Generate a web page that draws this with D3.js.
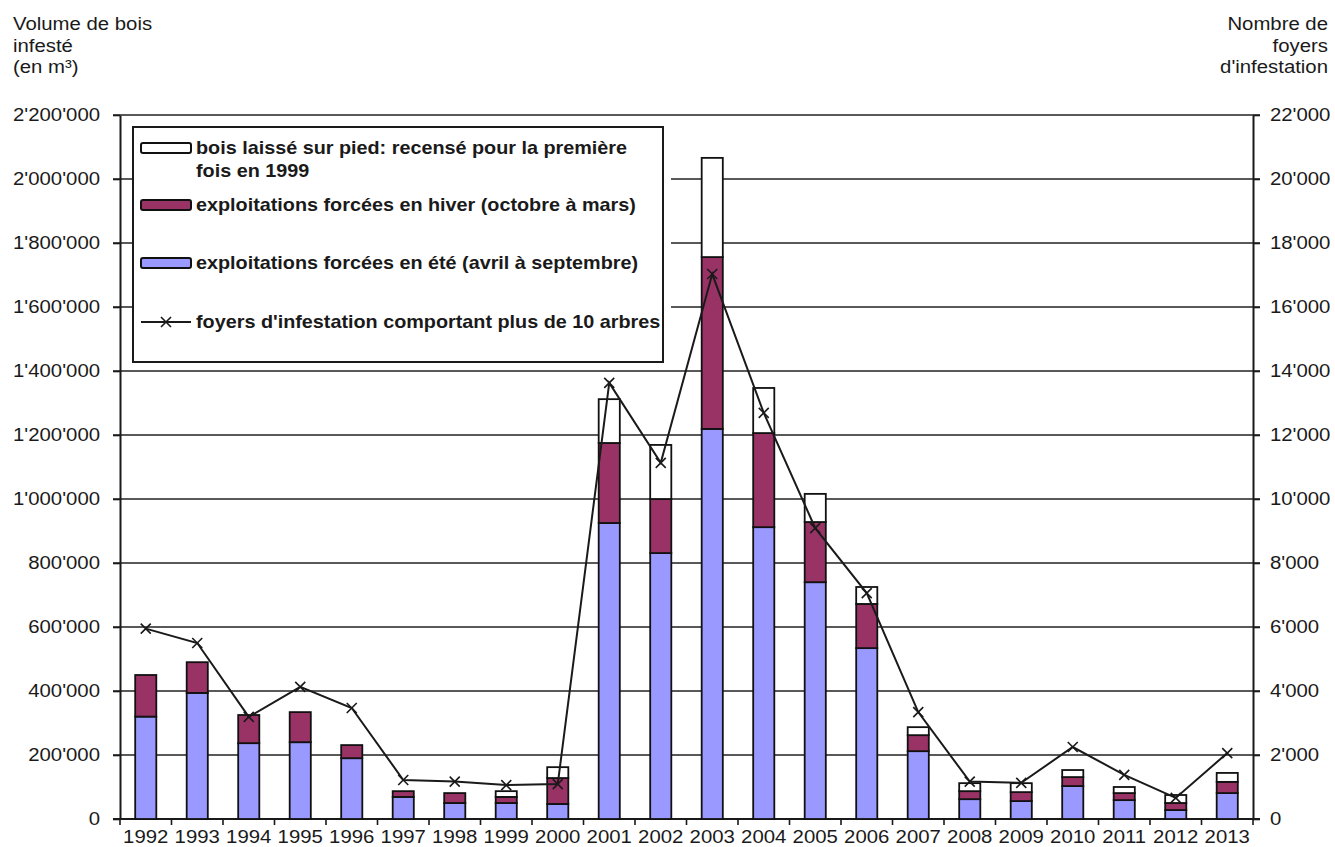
<!DOCTYPE html>
<html>
<head>
<meta charset="utf-8">
<script src="https://cdn.jsdelivr.net/npm/d3@7"></script>
<style>
  body { margin: 0; background: #fff; }
  text { font-family: "Liberation Sans", Arial, sans-serif; fill: #1a1a1a; }
</style>
</head>
<body>
<div id="chart"></div>
<script>
'use strict';

// data -------------------------------------------
const years    = ['1992','1993','1994','1995','1996','1997','1998','1999','2000','2001','2002',
                  '2003','2004','2005','2006','2007','2008','2009','2010','2011','2012','2013'];
const summer   = [320000, 394000, 237000, 240000, 190000, 69000, 50000, 50000, 47000, 925000, 831000,
                  1219000, 912000, 740000, 534000, 212000, 62000, 56000, 103000, 59000, 28000, 81000];
const winter   = [130000, 96000, 88000, 94000, 41000, 18000, 31000, 19000, 81000, 250000, 169000,
                  537000, 294000, 188000, 138000, 50000, 25000, 28000, 28000, 22000, 22000, 35000];
const standing = [0, 0, 0, 0, 0, 0, 0, 18000, 34000, 137000, 169000,
                  310000, 141000, 88000, 53000, 25000, 25000, 28000, 22000, 19000, 25000, 28000];
const foyers   = [5950, 5500, 3190, 4130, 3470, 1220, 1170, 1060, 1090, 13630, 11130,
                  17030, 12690, 9090, 7060, 3340, 1170, 1130, 2250, 1380, 660, 2060];

const leftTicks  = [0, 200000, 400000, 600000, 800000, 1000000, 1200000, 1400000, 1600000, 1800000, 2000000, 2200000];
const rightTicks = [0, 2000, 4000, 6000, 8000, 10000, 12000, 14000, 16000, 18000, 20000, 22000];

const legendItems = [
    {key: 'standing', lines: ['bois laissé sur pied: recensé pour la première', 'fois en 1999'], y: 148},
    {key: 'winter',   lines: ['exploitations forcées en hiver (octobre à mars)'], y: 205},
    {key: 'summer',   lines: ['exploitations forcées en été (avril à septembre)'], y: 263},
    {key: 'line',     lines: ["foyers d'infestation comportant plus de 10 arbres"], y: 322}
];

// layout ---------------------
const width   = 1335;
const height  = 847;
const padLeft = 120;
const padRight = 1253;
const plotTop = 115;
const plotBottom = 819;
const SX      = 1.1;   // the source text is a little wide
const colors  = {summer: '#9999ff', winter: '#993366', standing: '#ffffff'};
const ink     = '#1a1a1a';

const svg = d3.select('#chart').append('svg')
    .attr('width', width)
    .attr('height', height);

const x = d3.scaleBand().domain(years).range([padLeft, padRight]).paddingInner(0.59).paddingOuter(0.295);
const y = d3.scaleLinear().domain([0, 2200000]).range([plotBottom, plotTop]);
const y2 = d3.scaleLinear().domain([0, 22000]).range([plotBottom, plotTop]);
const fmt = d3.formatLocale({decimal: '.', thousands: "'", grouping: [3], currency: ['', '']}).format(',');

// gridlines ---------------------
svg.append('g').selectAll('line')
    .data(leftTicks.slice(1))
    .join('line')
    .attr('x1', padLeft - 7).attr('x2', padRight + 7)
    .attr('y1', d => y(d)).attr('y2', d => y(d))
    .attr('stroke', '#222').attr('stroke-width', 1.6);

// axes ---------------------
const gl = svg.append('g').attr('transform', `translate(${padLeft},0)`)
    .call(d3.axisLeft(y).tickValues(leftTicks).tickSize(7).tickSizeOuter(0).tickFormat(fmt));
gl.select('.domain').attr('stroke', ink).attr('stroke-width', 2);
gl.selectAll('.tick line').attr('stroke', ink).attr('stroke-width', 1.6);
gl.selectAll('.tick text')
    .attr('x', -20 / SX).attr('transform', `scale(${SX},1)`)
    .style('font-size', '18.5px').style('fill', ink);

const gr = svg.append('g').attr('transform', `translate(${padRight},0)`)
    .call(d3.axisRight(y2).tickValues(rightTicks).tickSize(7).tickSizeOuter(0).tickFormat(fmt));
gr.select('.domain').attr('stroke', ink).attr('stroke-width', 2);
gr.selectAll('.tick line').attr('stroke', ink).attr('stroke-width', 1.6);
gr.selectAll('.tick text')
    .attr('x', 17 / SX).attr('transform', `scale(${SX},1)`)
    .attr('text-anchor', 'start')
    .style('font-size', '18.5px').style('fill', ink);

const gb = svg.append('g').attr('transform', `translate(0,${plotBottom})`)
    .call(d3.axisBottom(x).tickSize(0).tickSizeOuter(0).tickPadding(11));
gb.select('.domain').remove();
gb.selectAll('.tick text')
    .attr('transform', `scale(${SX},1)`)
    .style('font-size', '18.5px').style('fill', ink);

// bottom axis line and boundary ticks
const step = x.step();
const edges = d3.range(years.length + 1).map(i => x(years[0]) - step * x.paddingInner() / 2 + i * step);
svg.append('line')
    .attr('x1', padLeft - 7).attr('x2', padRight + 7)
    .attr('y1', plotBottom).attr('y2', plotBottom)
    .attr('stroke', ink).attr('stroke-width', 2);
svg.append('g').selectAll('line')
    .data(edges)
    .join('line')
    .attr('x1', d => d).attr('x2', d => d)
    .attr('y1', plotBottom).attr('y2', plotBottom + 6)
    .attr('stroke', ink).attr('stroke-width', 1.6);

// stacked bars ---------------------
const table = years.map((yr, i) => ({year: yr, summer: summer[i], winter: winter[i], standing: standing[i]}));
const series = d3.stack().keys(['summer', 'winter', 'standing'])(table);

svg.append('g').selectAll('g')
    .data(series)
    .join('g')
    .attr('fill', d => colors[d.key])
    .selectAll('rect')
    .data(d => d.filter(s => s[1] > s[0]))
    .join('rect')
    .attr('x', d => x(d.data.year))
    .attr('width', x.bandwidth())
    .attr('y', d => y(d[1]))
    .attr('height', d => y(d[0]) - y(d[1]))
    .attr('stroke', '#111').attr('stroke-width', 1.8);

// line for foyers ---------------------
const pts = years.map((yr, i) => ({year: yr, v: foyers[i]}));
const cx = d => x(d.year) + x.bandwidth() / 2;
svg.append('path')
    .datum(pts)
    .attr('d', d3.line().x(cx).y(d => y2(d.v)))
    .attr('fill', 'none').attr('stroke', ink).attr('stroke-width', 2);

const cross = 'M-5,-5L5,5M-5,5L5,-5';
svg.append('g').selectAll('path')
    .data(pts)
    .join('path')
    .attr('transform', d => `translate(${cx(d)},${y2(d.v)})`)
    .attr('d', cross)
    .attr('fill', 'none').attr('stroke', ink).attr('stroke-width', 1.6);

// legend ---------------------
const lg = svg.append('g');
lg.append('rect').attr('x', 133).attr('y', 126).attr('width', 538).attr('height', 237).attr('fill', '#fff');
lg.append('rect').attr('x', 133).attr('y', 127).attr('width', 530).attr('height', 235)
    .attr('fill', '#fff').attr('stroke', ink).attr('stroke-width', 2);

legendItems.forEach(function(it) {
    if (it.key === 'line') {
        lg.append('line').attr('x1', 141).attr('x2', 191).attr('y1', it.y).attr('y2', it.y)
            .attr('stroke', ink).attr('stroke-width', 2);
        lg.append('path').attr('transform', `translate(166,${it.y})`).attr('d', cross)
            .attr('fill', 'none').attr('stroke', ink).attr('stroke-width', 1.6);
    } else {
        lg.append('rect').attr('x', 141).attr('y', it.y - 5).attr('width', 50).attr('height', 10)
            .attr('rx', 2).attr('fill', colors[it.key]).attr('stroke', '#111').attr('stroke-width', 2);
    }
    it.lines.forEach(function(s, j) {
        lg.append('text')
            .attr('transform', `translate(196,${it.y + 6 + j * 23}) scale(${SX},1)`)
            .style('font-size', '18px').style('font-weight', 'bold')
            .text(s);
    });
});

// axis titles ---------------------
const leftTitle  = ['Volume de bois', 'infesté', '(en m³)'];
const rightTitle = ['Nombre de', 'foyers', "d'infestation"];
leftTitle.forEach(function(s, i) {
    svg.append('text')
        .attr('transform', `translate(13,${30 + i * 21.5}) scale(${SX},1)`)
        .style('font-size', '18.5px')
        .text(s);
});
rightTitle.forEach(function(s, i) {
    svg.append('text')
        .attr('transform', `translate(1328,${30 + i * 21.5}) scale(${SX},1)`)
        .attr('text-anchor', 'end')
        .style('font-size', '18.5px')
        .text(s);
});
</script>
</body>
</html>
